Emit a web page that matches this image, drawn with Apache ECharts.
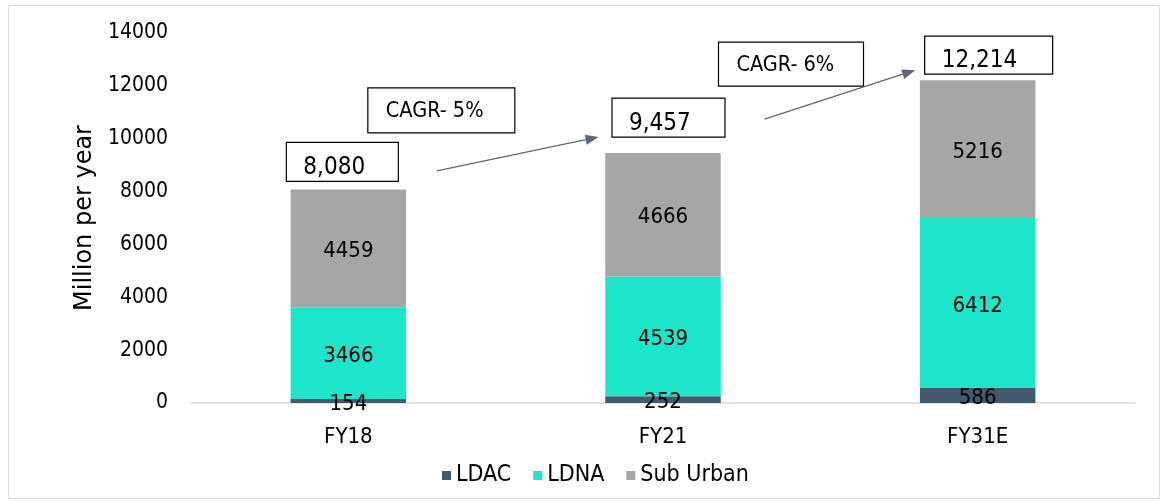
<!DOCTYPE html>
<html><head><meta charset="utf-8">
<script src="https://cdn.jsdelivr.net/npm/echarts@6/dist/echarts.min.js"></script>
<style>
html,body{margin:0;padding:0;background:#fff}
#frame{position:absolute;left:8px;top:5px;width:1152px;height:494px;border:1px solid #e0e0e0;box-sizing:border-box}
#c{position:absolute;left:0;top:0;width:1168px;height:503px}
</style></head>
<body><div id="frame"></div><div id="c"></div>
<script>
// ---- data ----
const categories = ['FY18', 'FY21', 'FY31E'];
const ldac = [154, 252, 586];
const ldna = [3466, 4539, 6412];
const subUrban = [4459, 4666, 5216];
const totals = [8080, 9457, 12214];
const totalLabels = ['8,080', '9,457', '12,214'];
const cagrLabels = ['CAGR- 5%', 'CAGR- 6%'];
const yMin = 0, yMax = 14000, yStep = 2000;

// ---- styling / layout (not data) ----
const FONT = '"DejaVu Sans Condensed", "DejaVu Sans", sans-serif';
const colors = { ldac: '#415a6e', ldna: '#1de5c9', sub: '#a6a6a6' };
// annotation offsets relative to bar centre (x) and bar top (y), in pixels
const totalBoxLayout = [
  { dx: -62, w: 112, dy: -47, h: 39 },
  { dx: -51, w: 113, dy: -55, h: 39 },
  { dx: -53, w: 128, dy: -44, h: 38 }
];
const cagrBoxLayout = [
  { from: 0, dx: 19.5, w: 147, dy: -101.5, h: 45 },
  { from: 1, dx: 55.5, w: 145, dy: -111, h: 44 }
];
const arrowLayout = [
  { from: 0, sx: 88.5, sy: -18.5, ex: -64.5, ey: -16 },
  { from: 1, sx: 101.5, sy: -34, ex: -62.5, ey: -10 }
];

const chart = echarts.init(document.getElementById('c'), null, { renderer: 'canvas' });
const labelStyle = { show: true, position: 'inside', offset: [0, 3], color: '#000', fontSize: 22, fontFamily: FONT };

chart.setOption({
  animation: false,
  backgroundColor: 'transparent',
  textStyle: { fontFamily: FONT },
  grid: { left: 191, right: 33, top: 33, bottom: 100, containLabel: false },
  legend: {
    data: ['LDAC', 'LDNA', 'Sub Urban'],
    left: 437, top: 459,
    icon: 'rect', itemWidth: 9, itemHeight: 9, itemGap: 22,
    textStyle: { fontSize: 23, color: '#000', fontFamily: FONT }
  },
  xAxis: {
    type: 'category', data: categories,
    axisLine: { show: true, lineStyle: { color: '#d9d9d9', width: 1.5 } },
    axisTick: { show: false },
    axisLabel: { color: '#000', fontSize: 22, fontFamily: FONT, margin: 23 }
  },
  yAxis: {
    type: 'value', min: yMin, max: yMax, interval: yStep,
    name: 'Million per year', nameLocation: 'middle', nameRotate: 90, nameGap: 92,
    nameTextStyle: { color: '#000', fontSize: 24, fontFamily: '"DejaVu Sans", sans-serif' },
    axisLine: { show: false }, axisTick: { show: false },
    splitLine: { show: false },
    axisLabel: { color: '#000', fontSize: 21, fontFamily: FONT, margin: 23,
      padding: [6, 0, 0, 0], formatter: v => String(v) }
  },
  series: [
    { name: 'LDAC', type: 'bar', stack: 'total', data: ldac, barWidth: '36.7%',
      itemStyle: { color: colors.ldac }, label: labelStyle },
    { name: 'LDNA', type: 'bar', stack: 'total', data: ldna, barWidth: '36.7%',
      itemStyle: { color: colors.ldna }, label: labelStyle },
    { name: 'Sub Urban', type: 'bar', stack: 'total', data: subUrban, barWidth: '36.7%',
      itemStyle: { color: colors.sub }, label: labelStyle }
  ]
});

// ---- annotations anchored to the chart's own scales ----
const anchors = categories.map((c, i) => chart.convertToPixel({ xAxisIndex: 0, yAxisIndex: 0 }, [c, totals[i]]));
const graphics = [];
const boxText = (x, y, w, h, text, size, pad, vshift) => ({
  type: 'group', children: [
    { type: 'rect', shape: { x: x, y: y, width: w, height: h },
      style: { fill: '#fff', stroke: '#000', lineWidth: 1.2 }, z: 100 },
    { type: 'text', x: x + pad, y: y + h / 2 + vshift, z: 101,
      style: { text: text, fill: '#000', font: size + 'px ' + FONT, verticalAlign: 'middle', align: 'left' } }
  ]
});
totalLabels.forEach((t, i) => {
  const L = totalBoxLayout[i], a = anchors[i];
  graphics.push(boxText(a[0] + L.dx, a[1] + L.dy, L.w, L.h, t, 24, 17, 6));
});
cagrLabels.forEach((t, k) => {
  const L = cagrBoxLayout[k], a = anchors[L.from];
  graphics.push(boxText(a[0] + L.dx, a[1] + L.dy, L.w, L.h, t, 21.5, 18, 1));
});
arrowLayout.forEach(L => {
  const a = anchors[L.from], b = anchors[L.from + 1];
  const x1 = a[0] + L.sx, y1 = a[1] + L.sy, x2 = b[0] + L.ex, y2 = b[1] + L.ey;
  const ang = Math.atan2(y2 - y1, x2 - x1), len = 13, hw = 5;
  const bx = x2 - len * Math.cos(ang), by = y2 - len * Math.sin(ang);
  const px = -Math.sin(ang) * hw, py = Math.cos(ang) * hw;
  graphics.push({ type: 'line', z: 100, shape: { x1: x1, y1: y1, x2: bx, y2: by },
    style: { stroke: '#5d6577', lineWidth: 1.3 } });
  graphics.push({ type: 'polygon', z: 100,
    shape: { points: [[x2, y2], [bx + px, by + py], [bx - px, by - py]] },
    style: { fill: '#5d6577' } });
});
chart.setOption({ graphic: graphics });
</script>
</body></html>
